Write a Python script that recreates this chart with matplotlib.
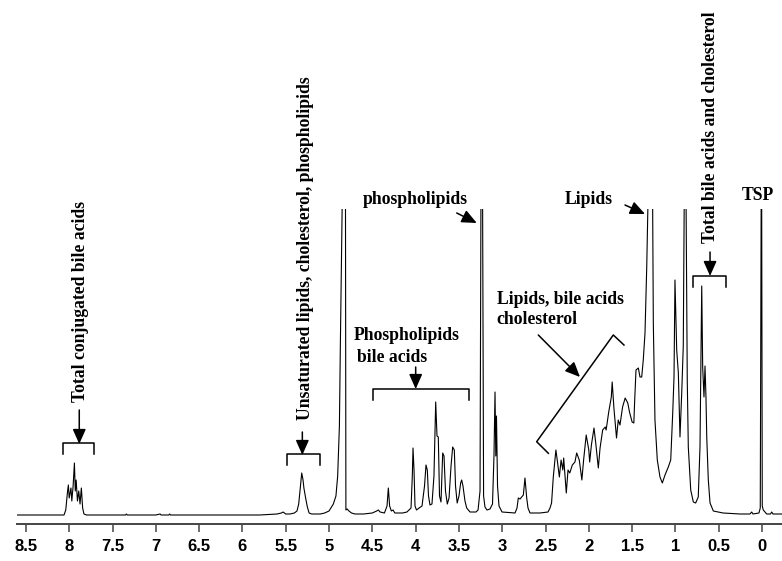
import matplotlib.pyplot as plt

# 1H NMR spectrum trace (ppm, intensity above baseline)
# the tallest peaks run off the top of the plot, as in the original
ppm = [8.60, 8.30, 8.10, 8.06, 8.04, 8.02, 8.01, 8.00, 7.98, 7.97, 7.955, 7.94, 7.93,
       7.92, 7.905, 7.89, 7.875, 7.86, 7.845, 7.83, 7.80, 7.50, 7.35, 7.34, 7.33, 7.00,
       6.95, 6.94, 6.85, 6.84, 6.83, 6.30, 5.80, 5.60, 5.55, 5.53, 5.50, 5.45, 5.40,
       5.37, 5.35, 5.33, 5.315, 5.30, 5.29, 5.27, 5.25, 5.23, 5.20, 5.10, 5.05, 5.00,
       4.95, 4.92, 4.90, 4.88, 4.87, 4.845, 4.81, 4.805, 4.79, 4.77, 4.74, 4.70, 4.60,
       4.50, 4.45, 4.43, 4.41, 4.36, 4.33, 4.315, 4.30, 4.28, 4.26, 4.24, 4.15, 4.10,
       4.053, 4.038, 4.030, 4.018, 4.007, 3.99, 3.96, 3.926, 3.897, 3.880, 3.865, 3.851,
       3.834, 3.811, 3.788, 3.768, 3.753, 3.738, 3.724, 3.707, 3.687, 3.672, 3.655,
       3.634, 3.614, 3.591, 3.572, 3.553, 3.539, 3.520, 3.499, 3.480, 3.468, 3.453,
       3.430, 3.410, 3.372, 3.303, 3.279, 3.256, 3.245, 3.227, 3.215, 3.199, 3.176,
       3.141, 3.112, 3.095, 3.083, 3.074, 3.066, 3.054, 3.037, 3.002, 2.852, 2.829,
       2.814, 2.794, 2.775, 2.756, 2.737, 2.717, 2.702, 2.679, 2.564, 2.471, 2.448,
       2.43, 2.41, 2.38, 2.36, 2.34, 2.32, 2.30, 2.29, 2.26, 2.24, 2.22, 2.19, 2.16,
       2.14, 2.11, 2.08, 2.06, 2.03, 2.00, 1.99, 1.97, 1.94, 1.92, 1.89, 1.87, 1.84,
       1.81, 1.80, 1.77, 1.74, 1.73, 1.71, 1.68, 1.66, 1.64, 1.61, 1.58, 1.55, 1.53,
       1.50, 1.48, 1.47, 1.455, 1.428, 1.409, 1.389, 1.371, 1.351, 1.331, 1.313, 1.264,
       1.255, 1.236, 1.209, 1.178, 1.151, 1.12, 1.082, 1.054, 1.031, 1.016, 1.005,
       0.985, 0.966, 0.947, 0.927, 0.909, 0.897, 0.878, 0.863, 0.851, 0.823, 0.793,
       0.766, 0.736, 0.716, 0.696, 0.685, 0.670, 0.658, 0.647, 0.638, 0.620, 0.600,
       0.562, 0.450, 0.254, 0.139, 0.119, 0.104, 0.035, 0.020, 0.009, 0.004, -0.003,
       -0.015, -0.054, -0.098, -0.112, -0.127, -0.231]
intensity = [1, 1, 1, 1, 6, 24, 31, 18, 28, 15, 30, 53, 25,
             36, 15, 25, 12, 28, 8, 2, 1, 1, 1, 2, 1, 1,
             2, 1, 1, 2, 1, 1, 1, 2, 3, 4, 2, 2, 3,
             5, 12, 30, 43, 36, 28, 18, 9, 3, 2, 2, 3, 5,
             12, 20, 40, 90, 164, 330, 330, 6, 7, 5, 3, 2, 2,
             3, 5, 6, 4, 3, 10, 28, 10, 5, 6, 3, 3, 4,
             8, 40, 68, 45, 10, 6, 8, 10, 30, 51, 46, 20,
             11, 12, 40, 114, 80, 79, 20, 14, 63, 60, 25,
             12, 18, 50, 69, 66, 30, 13, 20, 33, 36, 30,
             15, 8, 4, 4, 6, 25, 330, 330, 20, 9, 6,
             7, 12, 60, 124, 60, 100, 30, 10, 4, 3, 8,
             18, 17, 19, 21, 38, 18, 8, 3, 3, 4, 8,
             13, 39, 66, 53, 39, 56, 46, 58, 23, 46, 43, 51, 54,
             63, 56, 36, 56, 81, 66, 54, 71, 88, 73, 48, 68, 86,
             89, 86, 104, 119, 134, 108, 78, 96, 91, 109, 118, 113, 104,
             94, 93, 116, 146, 148, 139, 139, 156, 183, 249, 330, 330,
             193, 96, 56, 39, 33, 41, 49, 56, 103, 139, 236,
             166, 143, 79, 123, 170, 330, 330, 136, 69, 26, 14,
             13, 19, 69, 230, 149, 119, 150, 119, 79, 36, 13,
             5, 3, 2, 2, 4, 2, 3, 8, 330, 330, 10,
             6, 2, 2, 4, 2, 2]

tick_values = [8.5, 8, 7.5, 7, 6.5, 6, 5.5, 5, 4.5, 4, 3.5, 3, 2.5, 2, 1.5, 1, 0.5, 0]
tick_labels = ['8.5', '8', '7.5', '7', '6.5', '6', '5.5', '5', '4.5', '4',
               '3.5', '3', '2.5', '2', '1.5', '1', '0.5', '0']

# region labels: text, ppm, height, rotation, alignment
labels = [
    ('Total conjugated bile acids', 7.875, 215, 90, 'center'),
    ('Unsaturated lipids, cholesterol, phospholipids', 5.277, 268, 90, 'center'),
    ('Total bile acids and cholesterol', 0.600, 389, 90, 'center'),
    ('phospholipids', 4.001, 317, 0, 'center'),
    ('Lipids', 2.005, 317, 0, 'center'),
    ('TSP', 0.052, 321, 0, 'center'),
    ('Phospholipids', 4.719, 181, 0, 'left'),
    ('bile acids', 4.673, 159, 0, 'left'),
    ('Lipids, bile acids', 3.063, 216, 0, 'left'),
    ('cholesterol', 3.063, 196, 0, 'left'),
]

# arrows: (from ppm, from h, to ppm, to h)
arrows = [
    (7.884, 106, 7.884, 72),
    (5.308, 84, 5.308, 61),
    (3.999, 149, 3.999, 127),
    (0.600, 264, 0.600, 240),
    (3.525, 303, 3.294, 293),
    (1.582, 311, 1.351, 302),
    (2.583, 181, 2.102, 139),
]

# brackets: (left ppm, right ppm, height, tick depth)
brackets = [
    (8.075, 7.710, 73, 10.6),
    (5.482, 5.104, 62, 11),
    (4.495, 3.380, 127, 11),
    (0.800, 0.419, 240, 11),
]

# tilted bracket over the 2.5-1.6 ppm envelope
tilted_ppm = [2.467, 2.602, 1.717, 1.594]
tilted_h = [62.7, 74.3, 181, 171]

fig = plt.figure(figsize=(7.82, 5.61), dpi=100)
ax = fig.add_axes([17 / 782, 37 / 561, 765 / 782, 315 / 561])

ax.plot(ppm, intensity, color='black', lw=0.8)
ax.set_xlim(8.603, -0.231)
ax.set_ylim(-8, 307)

for side in ['top', 'left', 'right']:
    ax.spines[side].set_visible(False)
ax.spines['bottom'].set_color('#444444')
ax.spines['bottom'].set_linewidth(1.4)
ax.set_yticks([])
ax.set_xticks(tick_values)
ax.set_xticklabels(tick_labels, fontfamily='Liberation Sans', fontweight='bold', fontsize=12)
ax.tick_params(axis='x', direction='out', length=5.5, width=1.1, color='#444444', pad=5)

font = dict(family='Liberation Serif', weight='bold', size=12.7)
for text, x, y, rot, ha in labels:
    ax.text(x, y, text, rotation=rot, ha=ha, va='center', fontdict=font, clip_on=False)

for x0, y0, x1, y1 in arrows:
    ax.annotate('', xy=(x1, y1), xytext=(x0, y0), annotation_clip=False,
                arrowprops=dict(arrowstyle='-|>,head_length=0.9,head_width=0.4',
                                mutation_scale=10, color='black', lw=1.1,
                                shrinkA=0, shrinkB=0))

for left, right, h, depth in brackets:
    ax.plot([left, left, right, right], [h - depth, h, h, h - depth],
            color='black', lw=1.1, clip_on=False)

ax.plot(tilted_ppm, tilted_h, color='black', lw=1.1, clip_on=False)

fig.savefig('out.png', dpi=100)
